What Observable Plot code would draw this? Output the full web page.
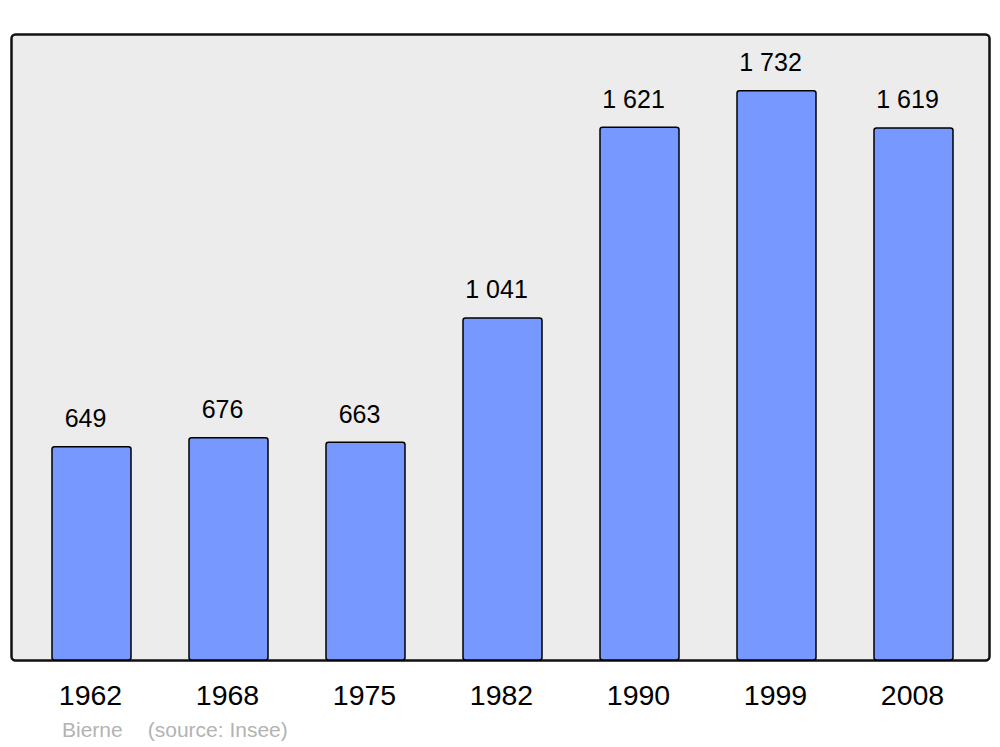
<!DOCTYPE html>
<html>
<head>
<meta charset="utf-8">
<script src="https://cdn.jsdelivr.net/npm/d3@7"></script>
<script src="https://cdn.jsdelivr.net/npm/@observablehq/plot@0.6"></script>
<style>
  html, body { margin: 0; padding: 0; background: #fff; }
  body { width: 1000px; height: 747px; overflow: hidden; font-family: "Liberation Sans", Arial, sans-serif; }
  #caption { position: relative; margin-left: 62px; margin-top: -2px; font-size: 21px; color: #b3b3b3; white-space: pre; line-height: 24px; }
  #caption .src { margin-left: 25px; }
</style>
</head>
<body>
<div id="chart"></div>
<div id="caption"><span>Bierne</span><span class="src">(source: Insee)</span></div>
<script>
const years = ["1962", "1968", "1975", "1982", "1990", "1999", "2008"];
const population = [649, 676, 663, 1041, 1621, 1732, 1619];

const data = years.map((y, i) => ({year: y, pop: population[i]}));
const fmt = v => d3.format(",")(v).replace(/,/g, " ");

const chart = Plot.plot({
  width: 1000,
  height: 720,
  marginTop: 34,
  marginBottom: 60,
  marginLeft: 11,
  marginRight: 11,
  style: {fontFamily: "'Liberation Sans', Arial, sans-serif", background: "transparent"},
  x: {domain: years, range: [51, 954], paddingInner: 0.4223, paddingOuter: 0, label: null},
  y: {domain: [0, 1905], axis: null},
  marks: [
    Plot.frame({fill: "#ececec", stroke: "#111", strokeWidth: 2.5, rx: 4}),
    Plot.barY(data, {x: "year", y: "pop", fill: "#7799ff", stroke: "#000", strokeWidth: 1.5, rx: 2.5}),
    Plot.text(data, {x: "year", y: "pop", text: d => fmt(d.pop), dy: -28, dx: -6.5, fontSize: 25, fill: "#000"}),
    Plot.axisX({tickSize: 0, tickPadding: 24, dx: -1.5, fontSize: 28.5, fill: "#000", label: null})
  ]
});
document.getElementById("chart").appendChild(chart);
</script>
</body>
</html>
